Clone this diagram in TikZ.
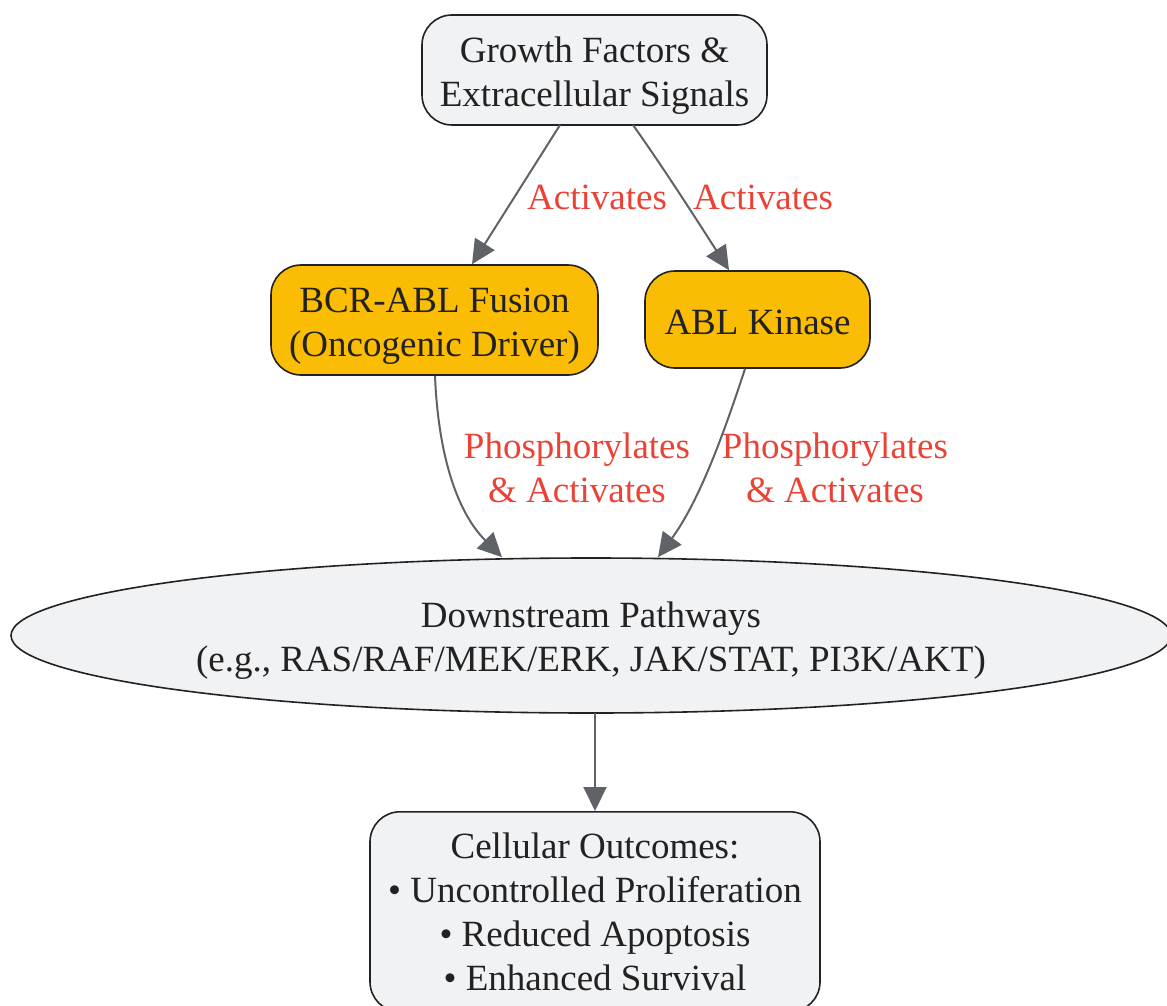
\documentclass[tikz,border=0pt]{standalone}
\usepackage{fontspec}
\setmainfont{Liberation Serif}
\usetikzlibrary{shapes.geometric,arrows.meta}
\definecolor{boxgray}{HTML}{F1F2F4}
\definecolor{boxorange}{HTML}{FBBC04}
\definecolor{edgegray}{HTML}{5F6368}
\definecolor{labred}{HTML}{EA4335}
\definecolor{txt}{HTML}{222222}
\newcommand{\upstrut}{\rule{0pt}{36pt}}
\newcommand{\onestrut}{\rule{0pt}{31pt}}
\tikzset{
  base/.style={draw=txt, line width=1.6pt, text=txt, align=center, font=\fontsize{37}{44}\selectfont},
  graybox/.style={base, rounded corners=30pt, fill=boxgray},
  orangebox/.style={base, rounded corners=30pt, fill=boxorange},
  conn/.style={draw=edgegray, line width=2pt, -{Triangle[length=24pt,width=23pt]}},
  lab/.style={text=labred, align=center, font=\fontsize{37}{44}\selectfont},
}
\begin{document}
\begin{tikzpicture}[x=1pt,y=-1pt]
\useasboundingbox (0,0) rectangle (1167,1006);
\node[graybox, minimum width=345pt, minimum height=110pt] (gf) at (594.5,70) {\upstrut Growth Factors \&\\Extracellular Signals};
\node[orangebox, minimum width=327pt, minimum height=110pt] (bcr) at (434.5,320) {\upstrut BCR-ABL Fusion\\(Oncogenic Driver)};
\node[orangebox, minimum width=225pt, minimum height=97pt] (abl) at (757.5,319.5) {\onestrut ABL Kinase};
\node[base, ellipse, fill=boxgray, minimum width=1160pt, minimum height=155pt, inner sep=0pt] (ds) at (591,635.5) {\upstrut Downstream Pathways\\(e.g., RAS/RAF/MEK/ERK, JAK/STAT, PI3K/AKT)};
\node[graybox, minimum width=450pt, minimum height=200pt, anchor=north] (out) at (595,811) {Cellular Outcomes:\\• Uncontrolled Proliferation\\• Reduced Apoptosis\\• Enhanced Survival};
\coordinate (gfa) at (560,125);
\coordinate (gfb) at (633,125);
\coordinate (dsb) at (595,713);
\draw[conn] (gfa) -- (bcr.north -| 472,0);
\draw[conn] (gfb) .. controls (665,170) and (700,225) .. (abl.north -| 729,0);
\draw[conn] (bcr.south -| 435,0) .. controls (438,450) and (455,510) .. (ds.north -| 502,0);
\draw[conn] (abl.south -| 745,0) .. controls (725,430) and (700,500) .. (ds.north -| 658,0);
\node[lab] (l1) at (597,197) {Activates};
\node[lab] (l2) at (763,197) {Activates};
\node[lab] (l3) at (577,468) {Phosphorylates\\\& Activates};
\node[lab] (l4) at (835,468) {Phosphorylates\\\& Activates};
\draw[conn] (dsb) -- (out.north -| dsb);
\end{tikzpicture}
\end{document}
